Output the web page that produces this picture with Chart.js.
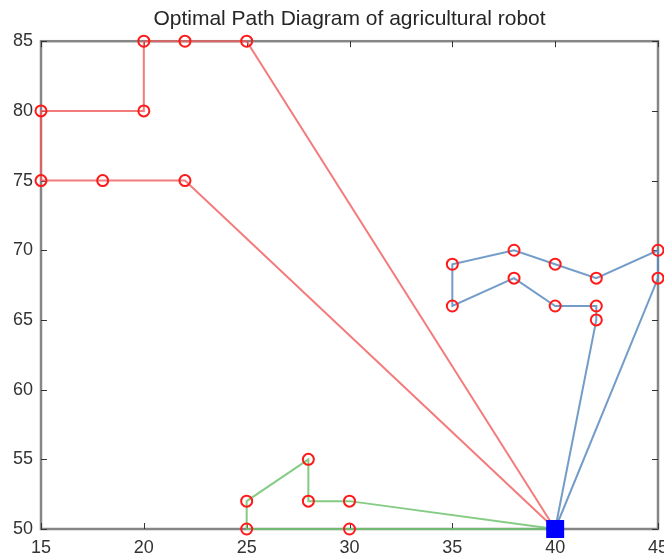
<!DOCTYPE html>
<html>
<head>
<meta charset="utf-8">
<script src="https://cdn.jsdelivr.net/npm/chart.js@4"></script>
<style>
  html, body { margin: 0; padding: 0; background: #fff; }
  #wrap { width: 664px; height: 556px; }
</style>
</head>
<body>
<div id="wrap"><canvas id="myChart" width="664" height="556"></canvas></div>
<script>
// depot and the three robot routes (x, y pairs)
var depot = [{x: 40, y: 50}];

var redRouteX = [40, 25, 22, 20, 20, 15, 15, 18, 22, 40];
var redRouteY = [50, 85, 85, 85, 80, 80, 75, 75, 75, 50];

var blueRouteX = [40, 42, 42, 40, 38, 35, 35, 38, 40, 42, 45, 45, 40];
var blueRouteY = [50, 65, 66, 66, 68, 66, 69, 70, 69, 68, 70, 68, 50];

var greenRouteX = [40, 30, 28, 28, 25, 25, 30, 40];
var greenRouteY = [50, 52, 52, 55, 52, 50, 50, 50];

var xTicks = [15, 20, 25, 30, 35, 40, 45];
var yTicks = [50, 55, 60, 65, 70, 75, 80, 85];

var FONT = 'Liberation Sans, Arial, sans-serif';

function toPoints(xs, ys) {
    var pts = [];
    for (var i = 0; i < xs.length; i++) {
        pts.push({x: xs[i], y: ys[i]});
    }
    return pts;
}

function route(xs, ys, color) {
    return {
        data: toPoints(xs, ys),
        showLine: true,
        borderColor: color,
        borderWidth: 2,
        pointStyle: 'circle',
        pointRadius: 5.5,
        pointBorderColor: '#ff1a1a',
        pointBorderWidth: 2,
        pointBackgroundColor: 'rgba(0,0,0,0)',
        clip: false
    };
}

// matlab style box with inward ticks on all four sides
var boxPlugin = {
    id: 'box',
    beforeDatasetsDraw: function(chart) {
        var ctx = chart.ctx, a = chart.chartArea;
        var sx = chart.scales.x, sy = chart.scales.y;
        ctx.save();
        ctx.strokeStyle = '#868686';
        ctx.lineWidth = 2.5;
        ctx.strokeRect(a.left, a.top, a.right - a.left, a.bottom - a.top);
        ctx.lineWidth = 1;
        ctx.strokeStyle = '#333333';
        ctx.beginPath();
        xTicks.forEach(function(v) {
            var px = Math.round(sx.getPixelForValue(v)) + 0.5;
            ctx.moveTo(px, a.bottom); ctx.lineTo(px, a.bottom - 6);
            ctx.moveTo(px, a.top); ctx.lineTo(px, a.top + 6);
        });
        yTicks.forEach(function(v) {
            var py = Math.round(sy.getPixelForValue(v)) + 0.5;
            ctx.moveTo(a.left, py); ctx.lineTo(a.left + 6, py);
            ctx.moveTo(a.right, py); ctx.lineTo(a.right - 6, py);
        });
        ctx.stroke();
        ctx.restore();
    }
};

var ctx = document.getElementById('myChart').getContext('2d');
var myChart = new Chart(ctx, {
    type: 'scatter',
    data: {
        datasets: [
            {
                data: depot,
                pointStyle: 'rect',
                pointRadius: 11.3,
                pointBackgroundColor: '#0000ff',
                pointBorderColor: '#0000ff',
                pointBorderWidth: 2,
                clip: false
            },
            route(redRouteX, redRouteY, 'rgba(240,90,90,0.8)'),
            route(blueRouteX, blueRouteY, 'rgba(90,140,190,0.85)'),
            route(greenRouteX, greenRouteY, 'rgba(110,195,110,0.85)')
        ]
    },
    options: {
        responsive: false,
        animation: false,
        // the right edge runs up to the canvas border, "45" gets cut
        layout: {autoPadding: false, padding: {left: 0, right: 6, top: 0, bottom: 0}},
        plugins: {
            legend: {display: false},
            tooltip: {enabled: false},
            title: {
                display: true,
                fullSize: false,
                text: 'Optimal Path Diagram of agricultural robot',
                color: '#262626',
                font: {family: FONT, size: 21, weight: 'normal'},
                padding: {top: 7, bottom: 9}
            }
        },
        scales: {
            x: {
                type: 'linear',
                min: 15,
                max: 45,
                grid: {display: false, drawTicks: false, tickLength: 0},
                border: {display: false},
                afterBuildTicks: function(scale) {
                    scale.ticks = xTicks.map(function(v) { return {value: v}; });
                },
                afterFit: function(scale) {
                    scale.height = 27;
                    scale.paddingLeft = 0;
                    scale.paddingRight = 0;
                },
                ticks: {
                    color: '#333333',
                    padding: 8,
                    maxRotation: 0,
                    font: {family: FONT, size: 18}
                }
            },
            y: {
                type: 'linear',
                min: 50,
                max: 85,
                grid: {display: false, drawTicks: false, tickLength: 0},
                border: {display: false},
                afterBuildTicks: function(scale) {
                    scale.ticks = yTicks.map(function(v) { return {value: v}; });
                },
                afterFit: function(scale) {
                    scale.width = 41;
                },
                ticks: {
                    color: '#333333',
                    padding: 8,
                    font: {family: FONT, size: 18}
                }
            }
        }
    },
    plugins: [boxPlugin]
});
</script>
</body>
</html>
